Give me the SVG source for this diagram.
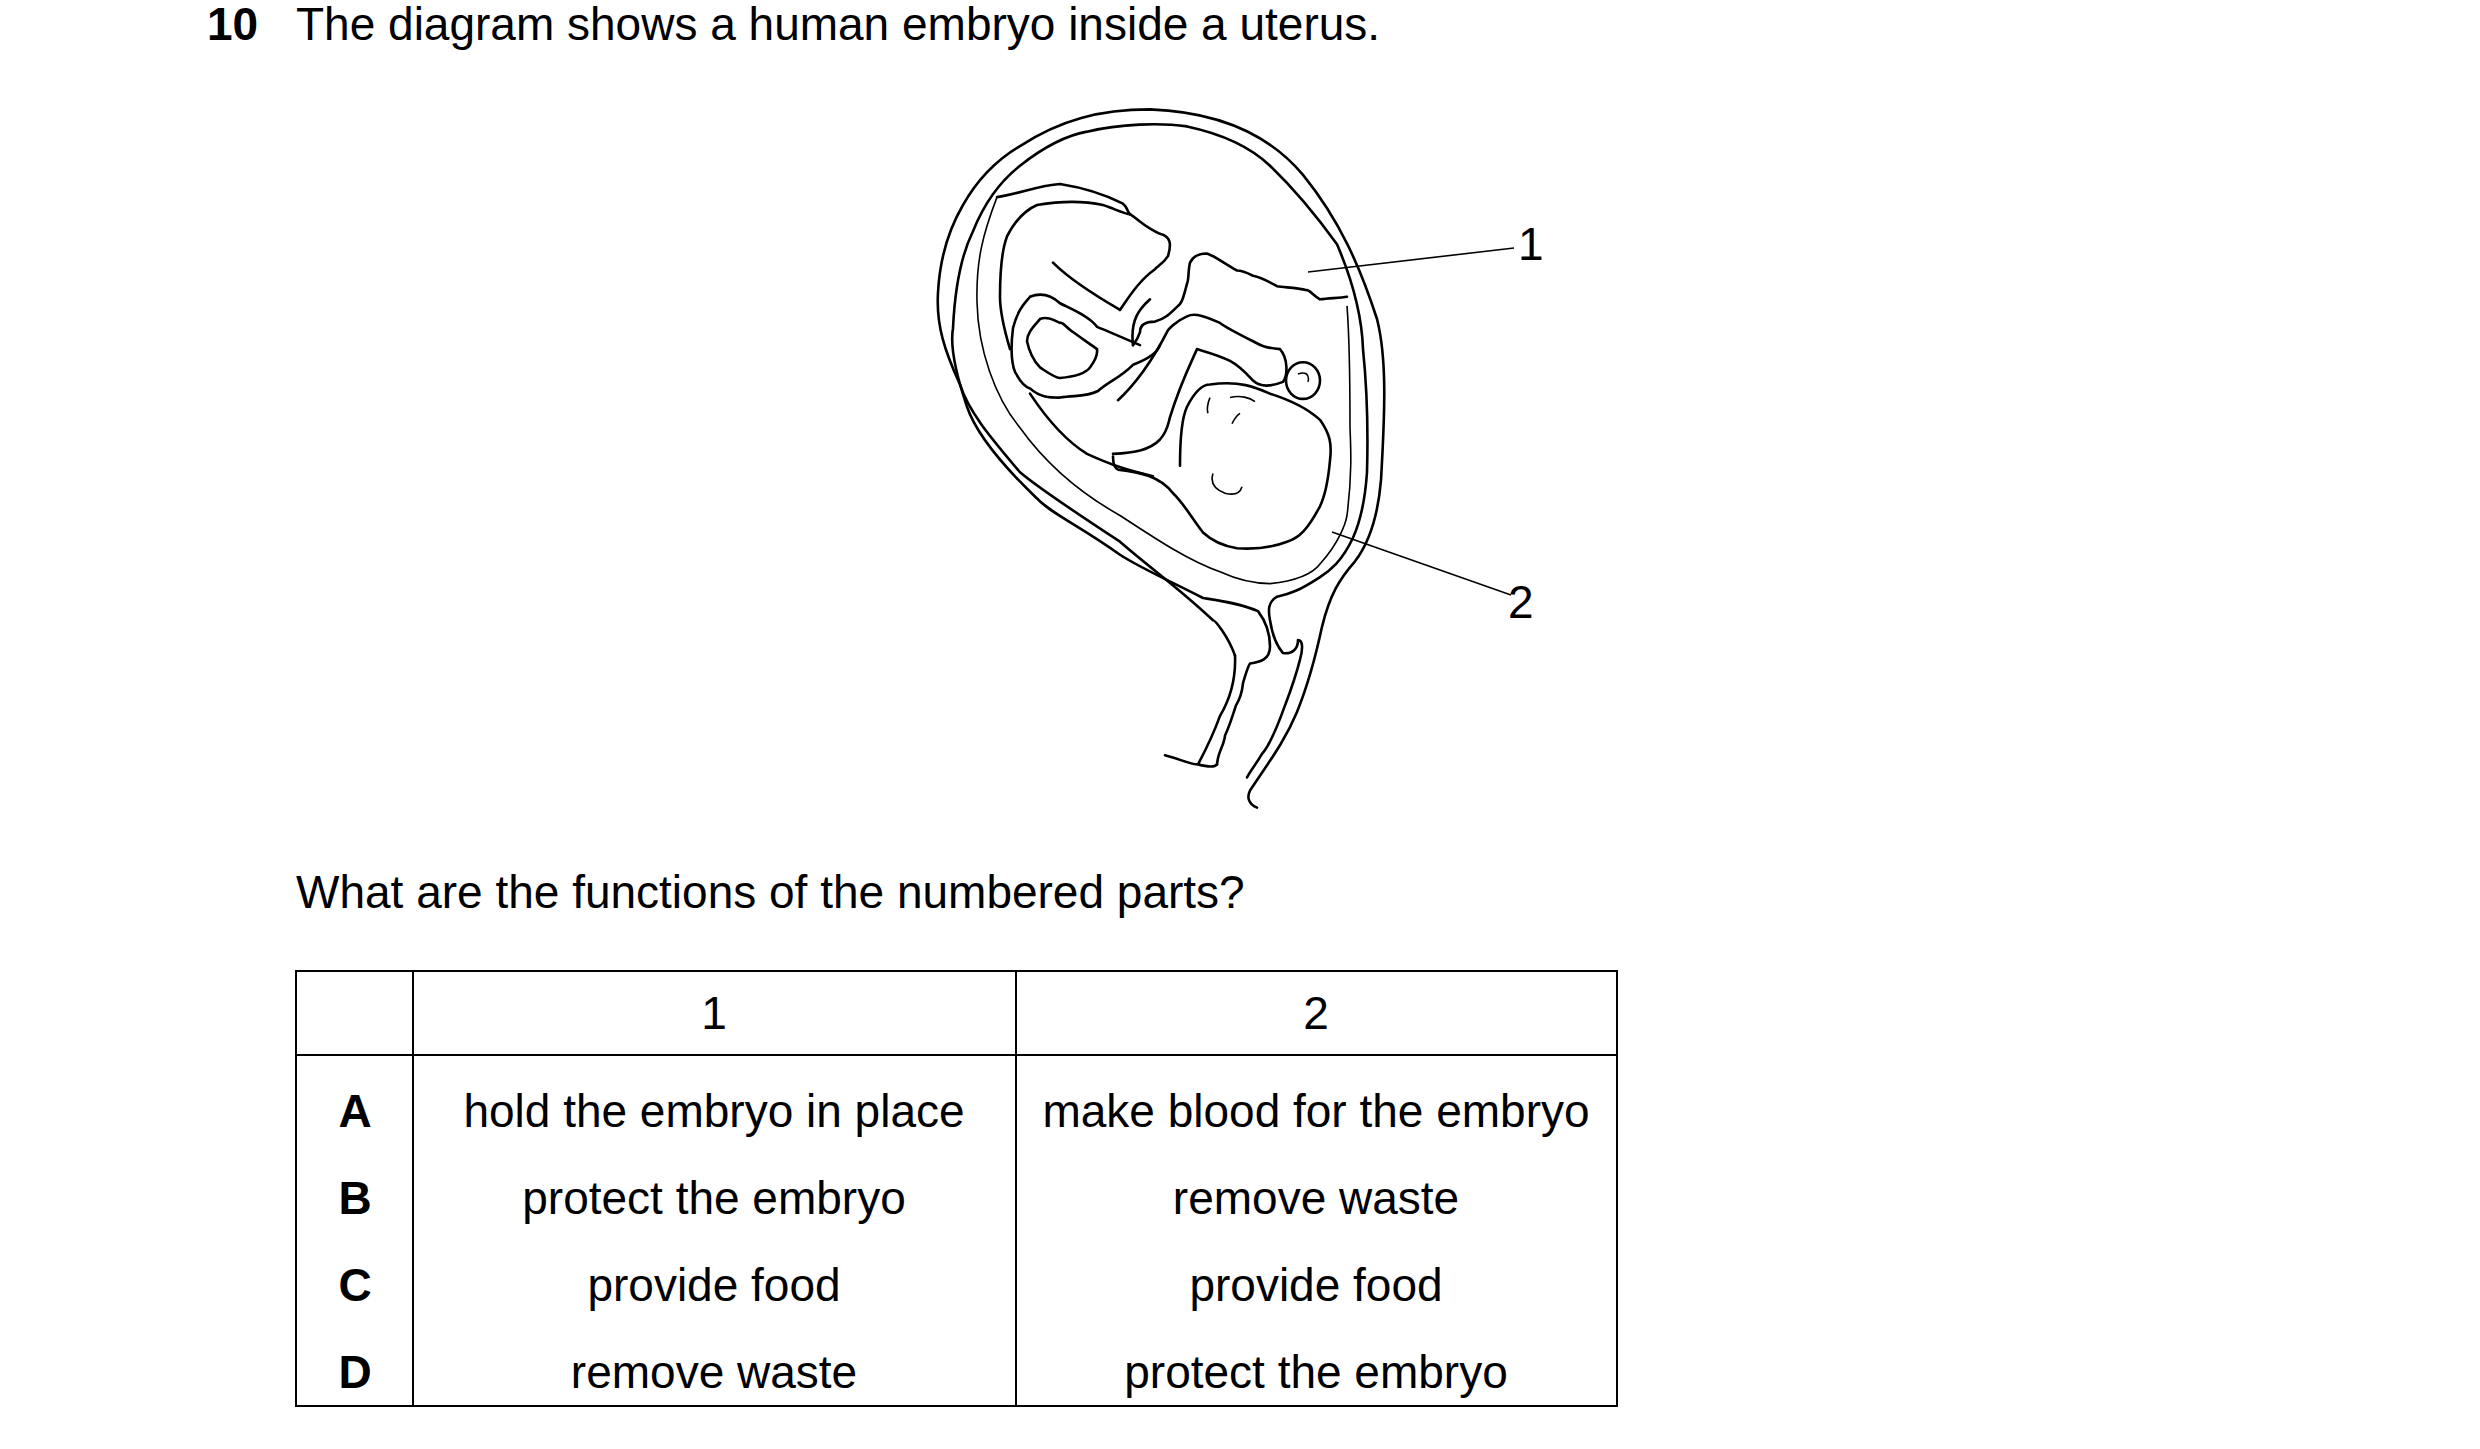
<svg xmlns="http://www.w3.org/2000/svg" width="2480" height="1449" viewBox="0 0 2480 1449">
<style>
text{font-family:"Liberation Sans",Arial,sans-serif;font-size:46px;fill:#000}
.b{font-weight:bold}
.m{text-anchor:middle}
.d{fill:none;stroke:#000;stroke-width:2.6;stroke-linecap:round;stroke-linejoin:round;vector-effect:non-scaling-stroke}
.t{fill:none;stroke:#000;stroke-width:1.6;vector-effect:non-scaling-stroke}
.g{stroke:#000;stroke-width:2}
</style>
<rect width="2480" height="1449" fill="#fff"/>
<g id="title"><text x="207" y="40" class="b">10</text><text x="296" y="40">The diagram shows a human embryo inside a uterus.</text></g>
<g id="uterus" transform="translate(0,112) scale(1,1.31) translate(0,-112)">
<path class="d" d="M1235,527 C1228,512 1215,500 1213,500 C1180,476 1150,460 1120,440 C1080,420 1040,400 1020,387 C990,360 968,340 960,320 C945,295 936,275 938,250 C940,220 950,200 963,183 C980,160 1000,147 1020,138 C1060,118 1100,110 1150,110 C1220,112 1270,130 1303,160 C1340,195 1360,230 1377,270 C1387,300 1385,340 1381,393 C1378,420 1370,440 1355,455 C1340,468 1330,480 1322,505 C1315,530 1305,555 1297,570 C1285,592 1270,607 1250,630 C1246,636 1250,641 1257,643"/>
<path class="d" d="M1235,527 C1236,545 1230,560 1220,573 C1212,590 1205,600 1198,610 M1165,603 C1180,606 1190,610 1198,610 C1208,612 1215,612 1217,610"/>
<path class="d" d="M1217,610 C1218,600 1224,596 1225,588 C1230,580 1232,574 1236,565 C1240,560 1242,556 1243,548 C1246,540 1248,535 1250,533 C1260,532 1270,530 1270,520 C1270,508 1265,500 1258,493 C1240,487 1220,485 1203,483 C1170,470 1140,460 1120,450 C1080,428 1050,418 1037,407 C1000,380 975,355 967,337 C955,310 950,290 953,277 C955,245 962,220 973,203 C985,180 1000,165 1020,153 C1045,138 1065,130 1087,127 C1120,121 1160,120 1187,123 C1230,130 1255,142 1270,153 C1300,175 1320,195 1337,213 C1355,245 1362,270 1363,293 C1368,330 1368,360 1367,387 C1365,410 1360,425 1353,437 C1342,455 1330,462 1320,467 C1300,477 1290,480 1277,482 C1268,486 1268,492 1270,500 C1272,510 1275,518 1283,525 C1292,526 1298,522 1298,515 C1303,515 1303,522 1300,530 C1295,545 1290,555 1285,565 C1278,580 1270,595 1262,602 C1256,610 1250,615 1247,620"/>
<path class="t" d="M997,177 C983,205 976,225 977,257 C978,293 995,330 1020,353 C1050,385 1085,405 1120,420 C1160,440 1190,455 1220,463 C1240,470 1255,472 1270,472 C1295,470 1312,465 1320,457 C1340,440 1346,425 1347,420 C1352,390 1351,370 1350,353 C1350,310 1349,280 1347,260"/>
<path class="d" d="M997,177 C1020,174 1040,168 1060,167 C1085,170 1105,175 1123,182 C1128,185 1127,188 1130,190"/>
<path id="placenta" class="d" d="M1347,253 C1340,254 1330,254 1320,255 C1313,252 1310,248 1307,248 C1295,246 1285,246 1277,245 C1268,241 1260,238 1253,237 C1245,234 1240,233 1237,233 C1225,228 1215,222 1207,220 C1198,220 1193,222 1190,227 C1188,233 1189,240 1187,243 C1184,252 1182,258 1178,260 C1170,266 1165,270 1155,272 C1145,272 1140,275 1140,280 C1138,285 1135,288 1133,290"/>
<path class="d" d="M1010,293 C1003,275 1000,260 1000,253 C1000,230 1003,215 1007,207 C1015,195 1025,187 1037,183 C1060,180 1085,180 1103,183 C1115,186 1125,190 1130,190"/>
<path id="head" class="d" d="M1180,382 C1180,360 1182,345 1187,337 C1195,325 1203,320 1210,320 C1240,317 1255,322 1270,327 C1295,333 1310,340 1320,347 C1330,358 1332,365 1330,378 C1328,395 1325,405 1320,413 C1308,430 1300,437 1287,440 C1270,445 1255,446 1237,445 C1220,443 1210,438 1203,433 C1190,420 1183,410 1173,403 C1160,390 1140,387 1118,385 C1115,384 1113,382 1113,375"/>
<path class="d" d="M1030,327 C1050,350 1070,365 1087,373 C1110,381 1125,385 1153,390 M1113,373 C1135,372 1150,370 1160,362 C1168,355 1168,350 1170,345 C1180,320 1190,305 1197,293 C1210,296 1220,298 1230,302 C1240,306 1247,312 1253,317 C1260,322 1270,322 1283,318 C1288,313 1288,300 1280,293 C1265,292 1260,290 1253,287 C1235,280 1225,276 1220,273 C1205,268 1195,265 1187,268 C1175,272 1168,278 1167,280 C1150,305 1135,320 1118,332"/>
<ellipse class="d" cx="1303" cy="317" rx="17" ry="14"/>
<path class="d" d="M1053,227 C1070,240 1095,252 1120,263 M1030,253 C1025,258 1018,262 1013,277 C1010,295 1012,308 1017,313 C1022,320 1026,322 1030,323 C1040,330 1050,330 1060,330 C1075,328 1085,330 1098,325 C1108,318 1120,315 1133,305 C1150,300 1158,295 1160,290 M1040,270 C1035,275 1027,280 1027,287 C1030,298 1035,303 1040,307 C1048,311 1055,315 1060,315 C1075,314 1085,312 1090,307 C1095,302 1098,298 1097,293 C1088,288 1080,284 1073,280 C1065,276 1063,272 1060,273 C1052,270 1046,268 1040,270 Z M1030,253 C1040,250 1050,251 1060,258 C1070,262 1090,268 1097,276 C1110,280 1125,285 1140,290"/>
<path class="d" d="M1130,190 C1140,195 1145,200 1160,205 C1170,207 1172,212 1168,222 C1163,228 1157,230 1155,232 C1140,240 1130,252 1120,263 M1133,290 C1130,270 1140,262 1150,255"/>
<path class="t" d="M1210,330 C1207,335 1207,340 1208,342 M1230,330 C1240,328 1250,330 1255,333 M1232,350 C1235,345 1238,343 1240,342 M1213,388 C1210,395 1215,400 1225,403 C1235,405 1240,403 1242,398 M1298,312 C1305,310 1310,312 1308,318"/>
</g>
<g id="connectors">
<line class="t" x1="1308" y1="272" x2="1514" y2="248"/>
<line class="t" x1="1332" y1="532" x2="1511" y2="595"/>
</g>
<g id="labels"><text x="1518" y="260">1</text><text x="1508" y="618">2</text></g>
<text x="296" y="908">What are the functions of the numbered parts?</text>
<g id="table">
<rect x="296" y="971" width="1321" height="435" fill="none" class="g"/>
<line class="g" x1="296" y1="1055" x2="1617" y2="1055"/>
<line class="g" x1="413" y1="971" x2="413" y2="1406"/>
<line class="g" x1="1016" y1="971" x2="1016" y2="1406"/>
<text class="m" x="714" y="1029">1</text><text class="m" x="1316" y="1029">2</text>
<text class="m b" x="355" y="1127">A</text><text class="m" x="714" y="1127">hold the embryo in place</text><text class="m" x="1316" y="1127">make blood for the embryo</text>
<text class="m b" x="355" y="1214">B</text><text class="m" x="714" y="1214">protect the embryo</text><text class="m" x="1316" y="1214">remove waste</text>
<text class="m b" x="355" y="1301">C</text><text class="m" x="714" y="1301">provide food</text><text class="m" x="1316" y="1301">provide food</text>
<text class="m b" x="355" y="1388">D</text><text class="m" x="714" y="1388">remove waste</text><text class="m" x="1316" y="1388">protect the embryo</text>
</g>
</svg>
